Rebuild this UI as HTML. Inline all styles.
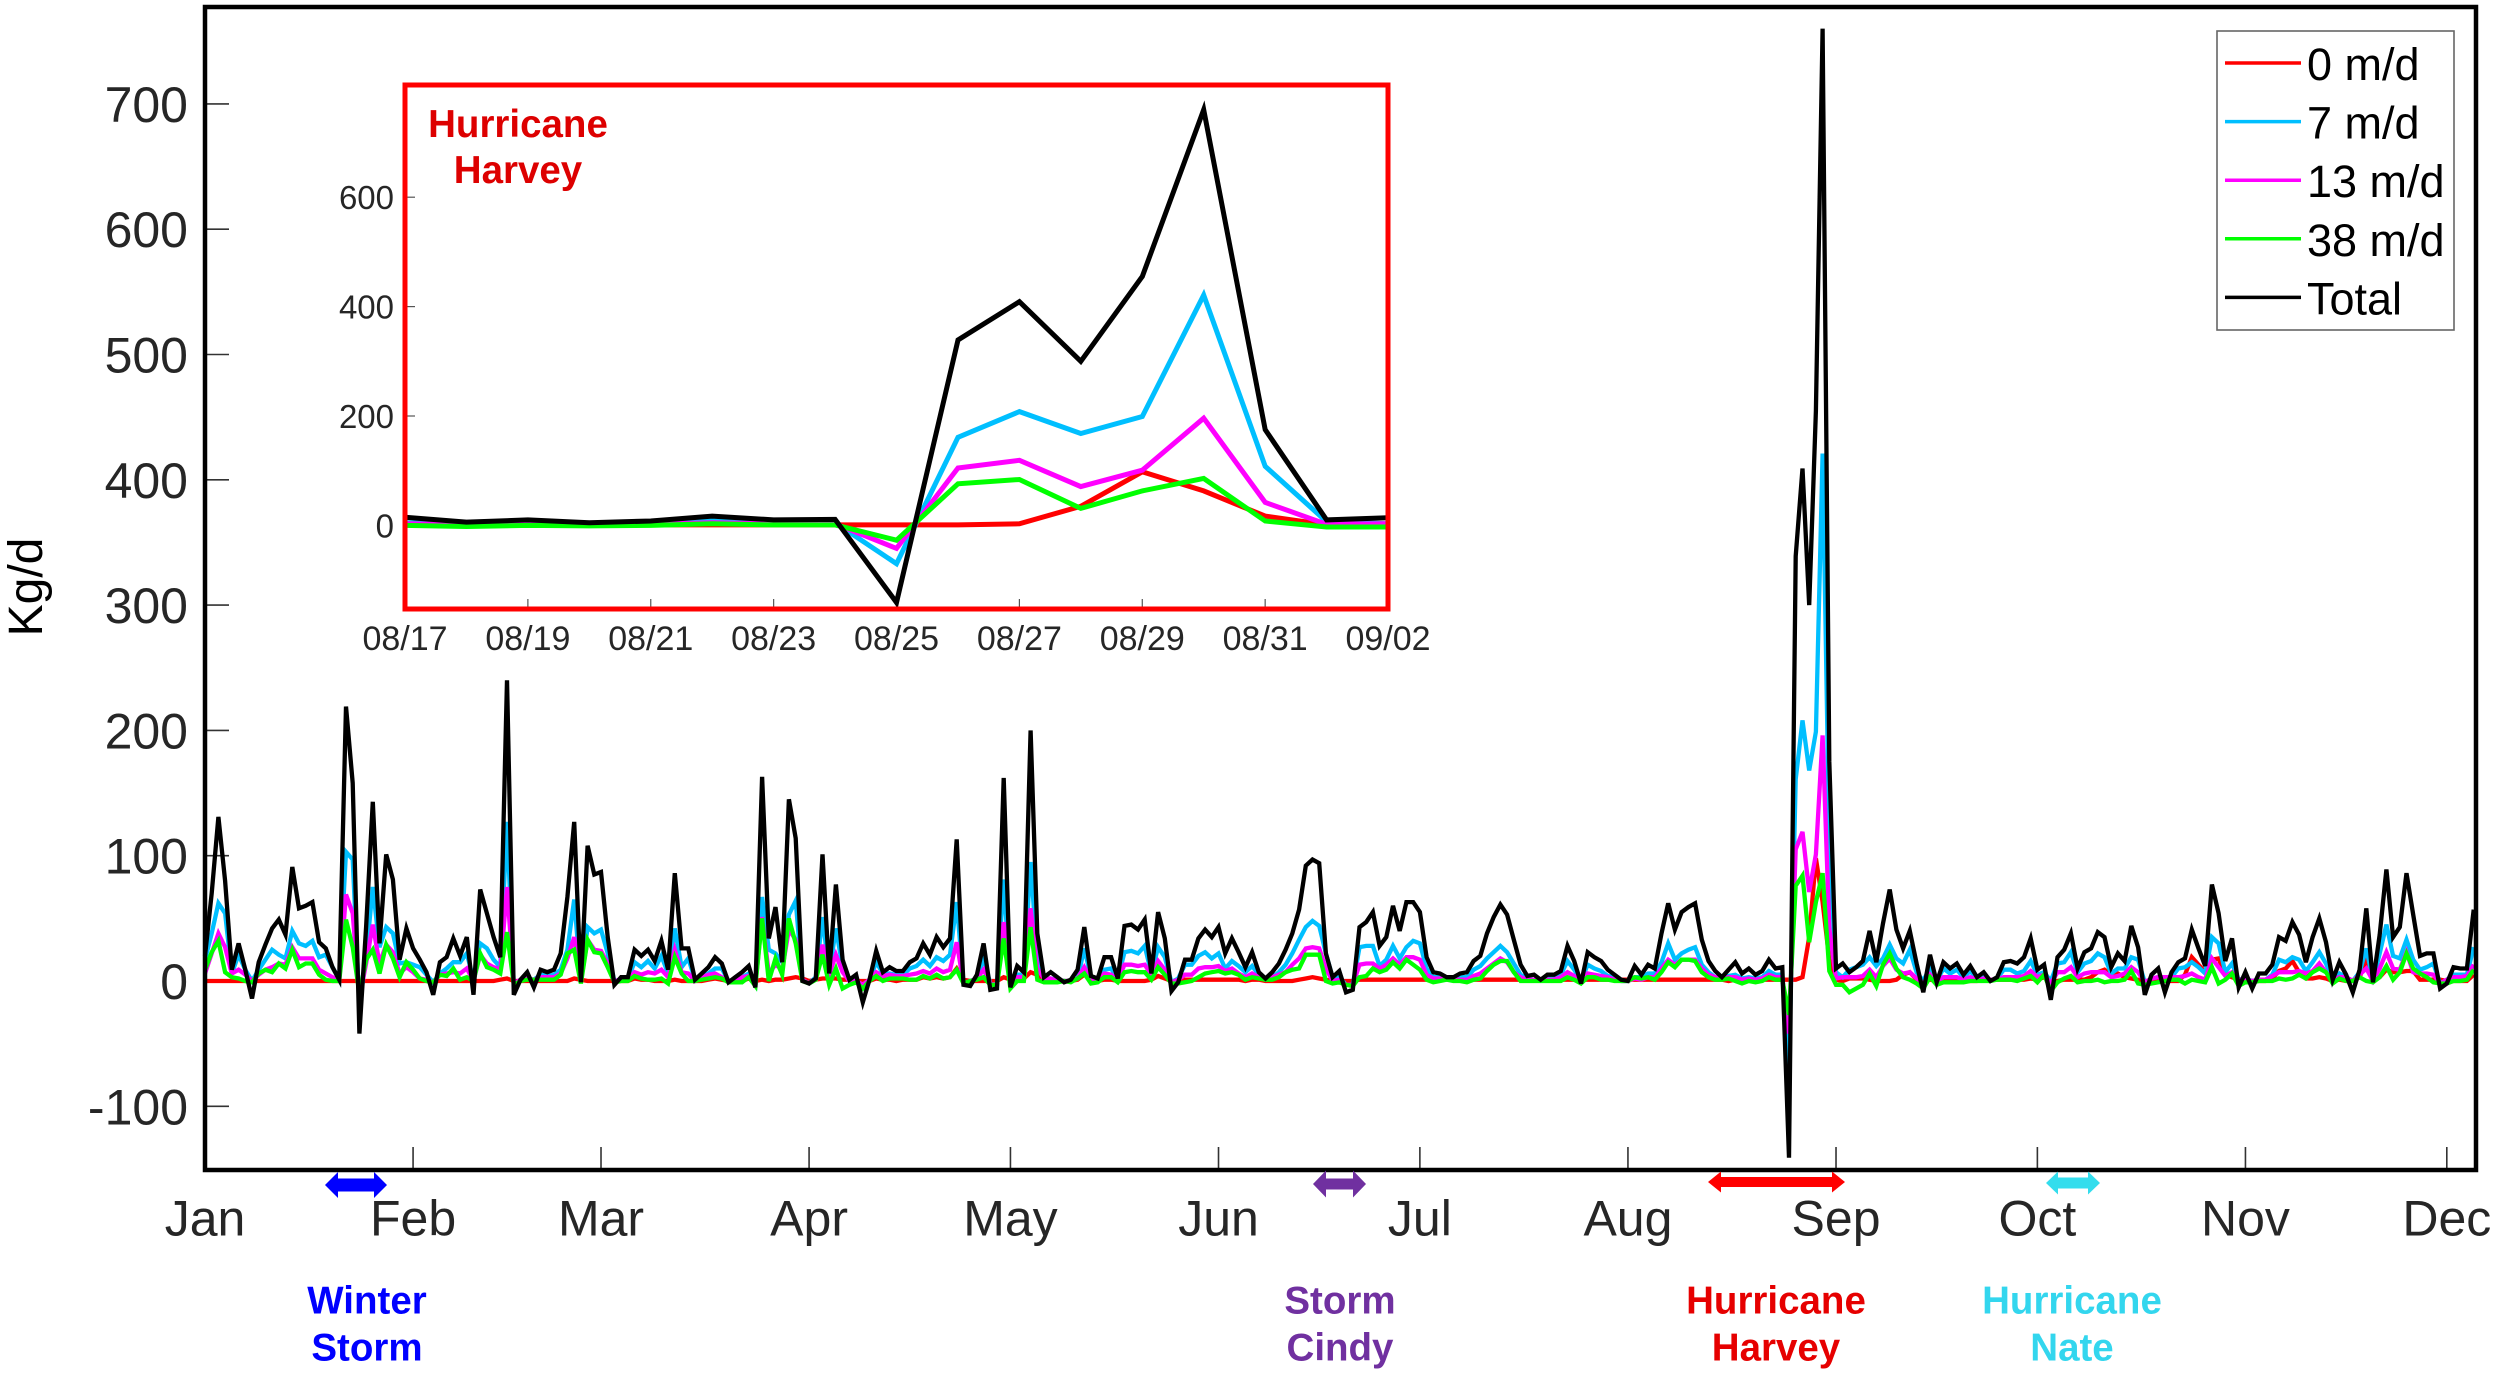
<!DOCTYPE html>
<html lang="en">
<head>
<meta charset="utf-8">
<title>Kg/d daily load chart</title>
<style>
html,body{margin:0;padding:0;background:#fff;}
body{width:2500px;height:1374px;overflow:hidden;}
svg{display:block;font-family:"Liberation Sans",Arial,sans-serif;}
</style>
</head>
<body>
<svg id="chart" xmlns="http://www.w3.org/2000/svg" width="2500" height="1374" viewBox="0 0 2500 1374"></svg>
<script>
const monthLabels = ["Jan","Feb","Mar","Apr","May","Jun","Jul","Aug","Sep","Oct","Nov","Dec"];
const monthDays = [0,31,59,90,120,151,181,212,243,273,304,334];
const yTicks = [-100,0,100,200,300,400,500,600,700];
const insetYTicks = [0,200,400,600];
const insetXLabels = ["08/17","08/19","08/21","08/23","08/25","08/27","08/29","08/31","09/02"];
const insetStartDay = 228;
const insetDayCount = 16;
const seriesNames = ["0 m/d","7 m/d","13 m/d","38 m/d","Total"];

const red = [
0,0,0,0,0,0,0,0,0,0,
0,0,0,0,0,0,0,0,0,0,
0,0,0,0,0,0,0,0,0,0,
0,0,0,0,0,0,0,0,0,0,
0,0,0,0,1,2,0,0,0,0,
0,0,0,0,0,2,1,0,0,0,
0,0,0,0,2,1,1,0,0,0,
1,0,0,0,0,1,2,1,0,0,
0,2,0,1,0,1,1,2,3,2,
0,1,2,2,2,1,1,0,0,0,
2,1,1,0,1,1,1,3,2,3,
2,3,10,1,0,0,0,0,0,3,
1,2,2,7,5,1,1,1,0,0,
1,5,1,0,1,1,0,0,0,0,
0,1,4,2,0,0,1,1,1,1,
1,1,1,1,1,0,1,1,0,0,
0,0,0,1,2,3,2,1,0,0,
0,0,1,1,1,1,1,1,1,1,
1,1,1,1,1,1,1,1,1,1,
1,1,1,1,1,1,1,1,1,1,
1,1,1,1,1,1,1,1,1,1,
1,1,1,1,1,1,1,1,1,1,
1,1,1,1,1,1,1,0,1,1,
1,1,1,1,1,1,1,1,3,35,
98,63,17,1,0,2,2,2,1,0,
0,0,1,5,7,1,0,1,0,0,
0,0,0,0,0,1,1,1,1,1,
1,1,2,1,3,-1,0,1,1,1,
1,3,7,9,5,6,3,2,1,0,
0,0,0,0,0,5,19,13,7,17,
18,5,3,1,0,0,0,0,2,8,
10,16,7,2,2,3,2,0,1,0,
0,3,17,0,3,9,7,7,8,8,
1,1,1,1,0,0,0,0,5];

const blue = [
17,38,62,54,6,21,9,0,9,17,
25,21,18,40,30,28,32,19,21,11,
1,103,97,-20,19,75,27,43,38,14,
15,13,11,5,-1,6,10,15,15,22,
1,30,26,17,11,127,-3,1,2,1,
5,4,5,9,25,65,0,43,38,41,
22,0,1,2,15,11,16,10,20,6,
42,11,18,1,3,6,10,10,0,1,
3,6,-3,67,25,22,15,53,64,1,
-2,3,51,6,42,11,1,0,-3,1,
15,6,6,5,5,10,12,17,12,19,
16,21,63,-2,0,2,18,-2,-3,81,
-3,5,5,95,18,2,2,1,0,0,
2,26,3,2,9,10,2,23,24,22,
28,6,27,19,-1,2,13,13,20,23,
18,22,10,16,12,7,12,5,1,3,
7,13,22,33,43,48,44,22,3,3,
-3,-3,27,28,28,12,17,28,18,27,
32,30,10,3,3,1,1,3,3,9,
12,18,23,28,23,14,5,2,1,1,
2,3,5,16,9,0,13,10,8,4,
3,0,0,3,3,6,6,15,30,17,
22,25,27,13,7,3,2,4,5,2,
3,2,3,8,5,5,-70,161,208,168,
199,421,108,7,3,9,11,13,19,12,
18,29,18,14,25,7,0,11,0,10,
6,9,3,8,2,3,0,2,9,9,
6,8,16,5,7,0,14,15,23,7,
14,16,22,19,6,10,10,19,17,-1,
2,3,3,3,10,11,15,11,6,35,
30,7,14,1,2,0,1,1,5,17,
15,19,17,8,15,23,14,1,6,3,
0,7,26,0,22,45,20,18,33,17,
9,11,14,-2,1,5,5,5,27];

const magenta = [
6,22,38,27,6,9,5,0,5,9,
11,14,13,27,18,18,18,9,6,3,
0,69,54,-14,14,45,14,29,23,6,
11,7,2,1,-1,5,6,7,6,10,
0,21,14,11,9,75,-2,1,2,1,
3,3,3,6,18,35,0,33,25,24,
14,0,1,1,7,5,7,6,9,3,
25,7,6,0,3,5,6,3,0,1,
3,4,-3,51,6,13,9,41,33,1,
-2,2,29,5,21,7,0,0,-3,1,
7,4,5,4,4,5,6,8,6,10,
7,9,31,-2,0,2,9,-2,-3,47,
-3,3,3,58,10,2,2,0,0,0,
2,11,2,1,6,5,1,13,13,12,
13,5,16,9,-1,1,5,5,10,11,
11,12,8,10,6,3,6,3,1,3,
5,7,13,18,26,27,26,10,0,1,
-3,-3,13,14,14,10,13,18,13,19,
19,17,5,2,2,1,1,1,1,4,
6,10,14,18,15,7,3,1,1,1,
1,1,3,7,4,0,6,5,4,3,
1,0,0,2,1,3,3,10,17,13,
17,17,17,10,5,3,2,3,3,1,
2,1,2,5,3,3,-42,105,119,71,
101,196,42,2,3,3,3,4,9,3,
12,18,9,6,7,2,-2,5,-1,3,
3,3,1,3,1,2,1,1,3,3,
3,4,8,3,5,-2,7,7,11,3,
6,7,7,7,3,4,6,11,7,-1,
2,3,3,3,3,4,6,3,1,18,
11,4,7,1,1,0,1,1,4,7,
7,7,8,6,8,14,7,1,3,3,
0,5,10,0,10,23,10,9,23,7,
6,6,5,-2,1,3,3,4,13];

const green = [
9,23,32,7,3,2,0,-1,6,9,
7,14,10,25,11,14,14,5,1,0,
0,49,27,-10,17,25,6,29,18,3,
15,9,2,0,-1,5,4,10,1,3,
0,22,11,9,6,39,-3,0,1,1,
1,1,1,5,22,25,-2,33,23,22,
11,-1,0,0,4,2,1,1,2,-2,
19,6,0,0,1,2,3,2,-1,-1,
-1,3,-4,50,0,18,5,50,30,0,
-2,1,21,-3,10,-6,-3,-1,-6,0,
4,0,2,2,2,1,1,4,2,5,
2,3,9,-2,0,1,3,-3,-3,34,
-6,0,0,43,1,-1,-1,-1,0,-1,
2,6,-2,-1,3,3,-1,7,8,7,
7,1,11,5,-2,-2,-1,0,3,6,
7,8,6,7,5,1,3,2,1,1,
3,7,9,10,21,21,21,0,-2,-1,
-3,-4,3,4,10,7,9,15,10,17,
13,9,1,-1,0,1,0,0,-1,1,
2,8,13,16,16,7,0,0,0,0,
0,0,0,3,1,-2,3,3,1,1,
0,0,0,3,2,3,1,7,15,11,
17,17,16,7,3,1,1,2,0,-2,
0,-1,0,3,1,1,-27,76,84,31,
63,86,8,-3,-3,-9,-6,-3,6,-4,
13,22,10,3,1,-2,-6,3,-3,-1,
-1,-1,-1,0,0,0,0,1,1,1,
0,2,4,-1,5,-8,-1,2,4,-1,
0,0,1,-1,0,0,1,8,-2,-3,
-2,-1,0,1,1,-2,1,0,-1,11,
-2,1,6,-4,-1,-1,0,0,0,2,
1,2,5,2,7,10,7,-2,2,0,
0,3,0,-1,3,12,1,7,22,10,
6,3,-1,-2,-2,0,0,1,9];

const total = [
20,70,131,80,9,30,9,-14,15,29,
42,49,37,91,58,60,63,31,26,11,
1,219,158,-42,43,143,30,101,81,17,
42,26,17,7,-11,15,19,34,20,35,
-11,73,54,35,19,240,-11,1,7,-5,
9,7,9,22,67,127,-1,108,85,87,
35,-3,3,3,25,20,25,16,32,9,
86,26,26,1,6,11,19,14,-1,3,
7,12,-5,163,34,59,15,145,114,0,
-2,2,101,6,77,17,1,5,-17,1,
24,7,11,8,8,15,18,30,21,35,
27,34,113,-3,-4,5,30,-7,-6,162,
-5,12,7,200,38,3,7,3,-1,1,
9,43,4,2,19,19,2,44,45,41,
49,6,55,34,-8,-1,17,17,34,41,
35,43,22,34,23,11,23,7,2,7,
14,25,38,57,92,97,94,22,3,8,
-9,-7,43,47,55,28,35,60,40,63,
63,55,19,7,6,3,3,6,7,16,
20,38,51,61,53,33,13,4,5,1,
5,5,8,28,16,-2,23,19,16,9,
5,1,0,12,5,13,10,38,62,41,
55,59,62,33,16,8,3,9,15,6,
10,5,8,17,10,11,-141,339,409,300,
455,760,175,10,14,7,11,16,40,15,
46,73,41,26,40,14,-9,21,-1,15,
10,14,5,12,3,7,0,3,15,16,
14,19,34,9,13,-15,19,25,38,10,
23,26,39,35,11,22,16,44,27,-11,
5,10,-9,7,15,18,41,26,12,77,
54,16,34,-5,7,-6,6,6,13,35,
32,47,37,15,35,50,31,1,15,5,
-9,9,58,-1,37,89,35,43,86,53,
20,22,22,-6,-2,11,10,10,57];

const NS = "http://www.w3.org/2000/svg";
const svg = document.getElementById("chart");
const seriesColors = ["#ff0000","#00bfff","#ff00ff","#00ff00","#000000"];
const seriesData = [red, blue, magenta, green, total];
const seriesKeys = ["red-0-md","blue-7-md","magenta-13-md","green-38-md","black-total"];

function mk(tag, attrs, parent) {
  const el = document.createElementNS(NS, tag);
  for (const k in attrs) el.setAttribute(k, attrs[k]);
  (parent || svg).appendChild(el);
  return el;
}
function xMain(d) { return 205 + 6.712 * d; }
function yMain(v) { return 981 - 1.253 * v; }
function xInset(d) { return 405 + 61.44 * d; }
function yInset(v) { return 525.4 - 0.547 * v; }
function pointsOf(values, xf, yf) {
  return values.map(function (v, i) { return xf(i).toFixed(1) + "," + yf(v).toFixed(1); }).join(" ");
}

/* main axis ticks */
yTicks.forEach(function (t) {
  const tick = mk("line", {x1:205, x2:229, y1:yMain(t), y2:yMain(t), stroke:"#333", "stroke-width":1.6});
  
  
  const lab = mk("text", {x:188, y:yMain(t)+18, "text-anchor":"end", "font-size":50, fill:"#262626"});
  lab.textContent = String(t);
  
  
});
monthDays.forEach(function (d, i) {
  if (d > 0) {
    const tick = mk("line", {x1:xMain(d), x2:xMain(d), y1:1170, y2:1147, stroke:"#333", "stroke-width":1.6});
    
    
  }
  const lab = mk("text", {x:xMain(d), y:1235.5, "text-anchor":"middle", "font-size":50, fill:"#262626"});
  lab.textContent = monthLabels[i];
  
  
});

/* main series */
seriesData.forEach(function (values, s) {
  const line = mk("polyline", {points:pointsOf(values, xMain, yMain), fill:"none", stroke:seriesColors[s], "stroke-width":4.3, "stroke-linejoin":"miter"});
  
  
});

/* frame */
const frame = mk("rect", {x:205, y:7, width:2271, height:1163, fill:"none", stroke:"#000", "stroke-width":4.5});



const yTitle = mk("text", {transform:"translate(42,587) rotate(-90)", "text-anchor":"middle", "font-size":48, fill:"#000"});
yTitle.textContent = "Kg/d";



/* inset */
const insetBg = mk("rect", {x:405, y:85, width:983, height:524, fill:"#fff", stroke:"none"});


insetYTicks.forEach(function (t) {
  const tick = mk("line", {x1:405, x2:415, y1:yInset(t), y2:yInset(t), stroke:"#555", "stroke-width":1.2});
  
  
  const lab = mk("text", {x:394, y:yInset(t)+12, "text-anchor":"end", "font-size":33, fill:"#262626"});
  lab.textContent = String(t);
  
  
});
insetXLabels.forEach(function (t, i) {
  const d = i * 2;
  const tick = mk("line", {x1:xInset(d), x2:xInset(d), y1:609, y2:599, stroke:"#555", "stroke-width":1.2});
  
  
  const lab = mk("text", {x:xInset(d), y:650, "text-anchor":"middle", "font-size":34, fill:"#262626"});
  lab.textContent = t;
  
  
});
seriesData.forEach(function (values, s) {
  const part = values.slice(insetStartDay, insetStartDay + insetDayCount + 1);
  const line = mk("polyline", {points:pointsOf(part, xInset, yInset), fill:"none", stroke:seriesColors[s], "stroke-width":5, "stroke-linejoin":"miter"});
  
  
});
const insetFrame = mk("rect", {x:405, y:85, width:983, height:524, fill:"none", stroke:"#ff0000", "stroke-width":5});



/* legend */
const legendBox = mk("rect", {x:2217, y:31, width:237, height:299, fill:"#fff", stroke:"#666", "stroke-width":1.6});


seriesNames.forEach(function (name, s) {
  const rowY = 63 + 58.6 * s;
  const sw = mk("line", {x1:2225, x2:2301, y1:rowY, y2:rowY, stroke:seriesColors[s], "stroke-width":3.5});
  
  
  const lab = mk("text", {x:2307, y:rowY+17, "font-size":45, fill:"#000"});
  lab.textContent = name;
  
  
});

/* storm arrows */
function arrow(name, x1, x2, cy, headH, shaftH, headL, color) {
  const h = headH / 2, t = shaftH / 2;
  const pts = [[x1,cy],[x1+headL,cy-h],[x1+headL,cy-t],[x2-headL,cy-t],[x2-headL,cy-h],[x2,cy],[x2-headL,cy+h],[x2-headL,cy+t],[x1+headL,cy+t],[x1+headL,cy+h]];
  const el = mk("polygon", {points:pts.map(function (p) { return p.join(","); }).join(" "), fill:color});
  
  
}
arrow("winter-storm-arrow", 325, 387, 1185, 26, 13, 13, "#0000ff");
arrow("storm-cindy-arrow", 1313, 1366, 1184, 27, 11, 13, "#7030a0");
arrow("hurricane-harvey-arrow", 1708, 1845, 1182, 21, 10, 13, "#ff0000");
arrow("hurricane-nate-arrow", 2046, 2100, 1183, 23, 11, 12, "#33dded");

/* storm labels */
function note(name, cx, y1, y2, l1, l2, color, size) {
  const a = mk("text", {x:cx, y:y1, "text-anchor":"middle", "font-size":size, "font-weight":"bold", fill:color});
  a.textContent = l1;
  
  
  const b = mk("text", {x:cx, y:y2, "text-anchor":"middle", "font-size":size, "font-weight":"bold", fill:color});
  b.textContent = l2;
  
  
}
note("winter-storm-label", 367, 1313.5, 1360.5, "Winter", "Storm", "#0000ff", 38.5);
note("storm-cindy-label", 1340, 1313.5, 1360.5, "Storm", "Cindy", "#7030a0", 38.5);
note("hurricane-harvey-label", 1776, 1313.5, 1360.5, "Hurricane", "Harvey", "#e60000", 38.5);
note("hurricane-nate-label", 2072, 1313.5, 1360.5, "Hurricane", "Nate", "#33d6ee", 38.5);
note("inset-hurricane-harvey-label", 518, 137, 183, "Hurricane", "Harvey", "#dd0000", 38.5);
</script>
</body>
</html>
